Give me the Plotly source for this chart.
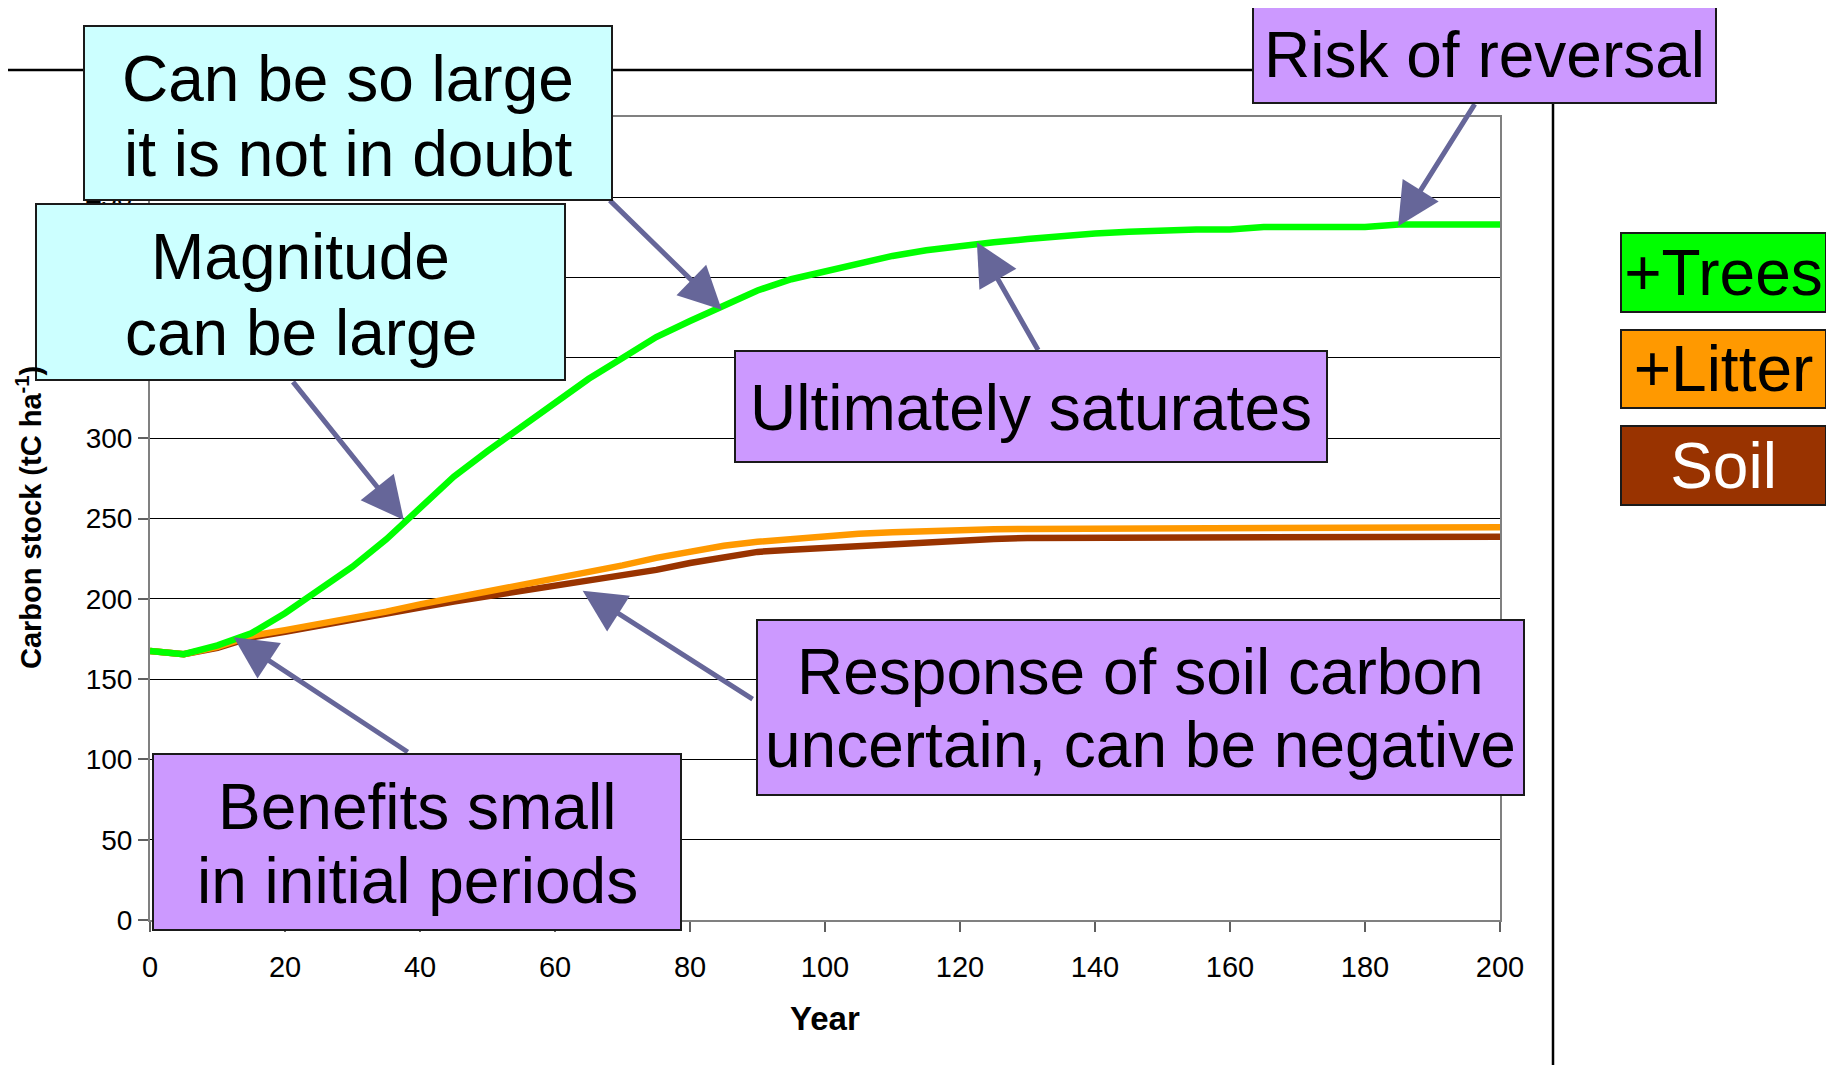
import plotly.graph_objects as go

# ---- data ----
years = list(range(0, 201, 5))
trees = [167.5, 165.5, 171, 178.5, 191, 206, 220, 237, 256, 276, 292, 307, 322, 337,
         350, 363, 373, 383, 392, 399, 404, 409, 413.5, 417, 420, 422, 424, 426, 427.5,
         428.5, 429.5, 430, 430, 431.5, 431.5, 431.5, 431.5, 433, 433, 433, 433]
litter = [167.5, 165.5, 170, 177, 180.5, 184.2, 188, 192, 196.5, 200.6, 204, 207.8, 212,
          216.5, 220.8, 225.5, 229.7, 233, 235.5, 237.4, 239.3, 240.5, 241.5, 242.4, 243,
          243.3, 243.5, 243.5, 243.5, 243.5, 243.5, 243.5, 243.5, 243.5, 243.5, 243.5,
          243.5, 243.5, 243.5, 243.5, 244.5]
soil = [167.5, 165.5, 169.5, 176, 179.5, 183, 186.5, 190.5, 194.5, 198.3, 201.5, 204.5,
        207.5, 210.8, 214.5, 218, 222.3, 226, 229.2, 230.6, 231.8, 232.8, 234.2, 235.8,
        236.5, 237.3, 237.9, 237.9, 237.9, 237.9, 237.9, 238.7, 238.7, 238.7, 238.7,
        238.7, 238.7, 238.7, 238.7, 238.7, 238.7]

x_ticks = list(range(0, 201, 20))
y_ticks = list(range(0, 501, 50))

series_names = ["+Trees", "+Litter", "Soil"]
series_colors = ["#00FF00", "#FF9900", "#993300"]

# call-outs: (text lines, arrow tip x, tip y, tail x, tail y)
callouts = [
    (["Can be so large", "it is not in doubt"], 84.7, 380, 67.9, 449),
    (["Magnitude", "can be large"], 37.6, 249, 21.0, 336),
    (["Risk of reversal"], 184.9, 432, 196.4, 509),
    (["Ultimately saturates"], 122.5, 422, 131.7, 354),
    (["Response of soil carbon", "uncertain, can be negative"], 64.1, 205, 89.5, 137),
    (["Benefits small", "in initial periods"], 12.4, 176, 38.4, 104),
]

OFF = 8  # page body margin
W, H = 1834 - OFF, 1065 - OFF
L, R, T, B = 150, 1500, 117, 920  # plot area in screen pixels


def px(xpix):
    return (xpix - L) / (R - L)


def py(ypix):
    return (B - ypix) / (B - T)


FONT = "Arial, Liberation Sans, sans-serif"
BOXFONT = 64

fig = go.Figure()
for name, yv, col in [("Soil", soil, series_colors[2]),
                      ("+Litter", litter, series_colors[1]),
                      ("+Trees", trees, series_colors[0])]:
    fig.add_trace(go.Scatter(x=years, y=yv, mode="lines", name=name,
                             line=dict(color=col, width=6.5), showlegend=False))

annotations = []
# arrows
for lines, tx, ty, ax_, ay_ in callouts:
    annotations.append(dict(x=tx, y=ty, ax=ax_, ay=ay_, xref="x", yref="y",
                            axref="x", ayref="y", text="", showarrow=True,
                            arrowhead=2, arrowsize=1.7, arrowwidth=5,
                            arrowcolor="#666699"))

# text boxes: (lines, bg, x0, y0, x1, y1, line centres) in screen pixels
boxes = [
    (callouts[0][0], "#CCFFFF", 84, 26, 612, 200, [79, 154]),
    (callouts[1][0], "#CCFFFF", 36, 204, 565, 380, [257, 333]),
    (callouts[2][0], "#CC99FF", 1253, 7, 1716, 103, [55]),
    (callouts[3][0], "#CC99FF", 735, 351, 1327, 462, [408]),
    (callouts[4][0], "#CC99FF", 757, 620, 1524, 795, [672, 745]),
    (callouts[5][0], "#CC99FF", 153, 754, 681, 930, [807, 881]),
]
for lines, bg, x0, y0, x1, y1, ys in boxes:
    annotations.append(dict(x=px((x0 + x1) / 2), y=py((y0 + y1) / 2), xref="paper",
                            yref="paper", xanchor="center", yanchor="middle",
                            text=" ", showarrow=False,
                            width=x1 - x0 - 2, height=y1 - y0 - 2, bgcolor=bg,
                            bordercolor="#1a1a1a", borderwidth=2, borderpad=0,
                            font=dict(family=FONT, size=10, color="black")))
    for line, yc in zip(lines, ys):
        annotations.append(dict(x=px((x0 + x1) / 2), y=py(yc), xref="paper",
                                yref="paper", xanchor="center", yanchor="middle",
                                text=line, showarrow=False,
                                font=dict(family=FONT, size=BOXFONT, color="black")))

# legend boxes
leg_y = [(233, 312), (330, 408), (426, 505)]
leg_font = ["black", "black", "white"]
for name, col, (y0, y1), fc in zip(series_names, series_colors, leg_y, leg_font):
    annotations.append(dict(x=px((1621 + 1826) / 2), y=py((y0 + y1) / 2), xref="paper",
                            yref="paper", xanchor="center", yanchor="middle",
                            text=name, showarrow=False, width=1826 - 1621 - 2,
                            height=y1 - y0 - 2, bgcolor=col, bordercolor="#1a1a1a",
                            borderwidth=2, borderpad=0,
                            font=dict(family=FONT, size=BOXFONT, color=fc)))

# axis titles
annotations.append(dict(x=px(825), y=py(1018), xref="paper", yref="paper",
                        text="<b>Year</b>", showarrow=False, xanchor="center",
                        yanchor="middle", font=dict(family=FONT, size=33, color="black")))
annotations.append(dict(x=px(29), y=py(518), xref="paper", yref="paper",
                        text="<b>Carbon stock (tC ha<sup>-1</sup>)</b>", showarrow=False,
                        textangle=-90, xanchor="center", yanchor="middle",
                        font=dict(family=FONT, size=29, color="black")))

shapes = [
    dict(type="line", xref="paper", yref="paper", x0=px(0), x1=px(1553),
         y0=py(70), y1=py(70), line=dict(color="black", width=2.5)),
    dict(type="line", xref="paper", yref="paper", x0=px(1553), x1=px(1553),
         y0=py(70), y1=py(1075), line=dict(color="black", width=2.5)),
]

fig.update_layout(
    width=W, height=H,
    margin=dict(l=L - OFF, r=W - (R - OFF), t=T - OFF, b=H - (B - OFF),
                autoexpand=False),
    paper_bgcolor="white", plot_bgcolor="white",
    showlegend=False,
    annotations=annotations,
    shapes=shapes,
    font=dict(family=FONT, color="black"),
)
fig.update_xaxes(range=[0, 200], tickvals=x_ticks, showgrid=False, zeroline=False,
                 showline=True, linecolor="#808080", linewidth=2, mirror=True,
                 ticks="outside", ticklen=10, tickcolor="#606060", tickwidth=1.5,
                 tickfont=dict(family=FONT, size=29, color="black"),
                 ticklabelstandoff=10)
fig.update_yaxes(range=[0, 500], tickvals=y_ticks, showgrid=True, gridcolor="black",
                 gridwidth=1, zeroline=False, showline=True, linecolor="#808080",
                 linewidth=2, mirror=True, ticks="outside", ticklen=10,
                 tickcolor="#606060", tickwidth=1.5,
                 tickfont=dict(family=FONT, size=28, color="black"))

fig.write_html("out.html")
